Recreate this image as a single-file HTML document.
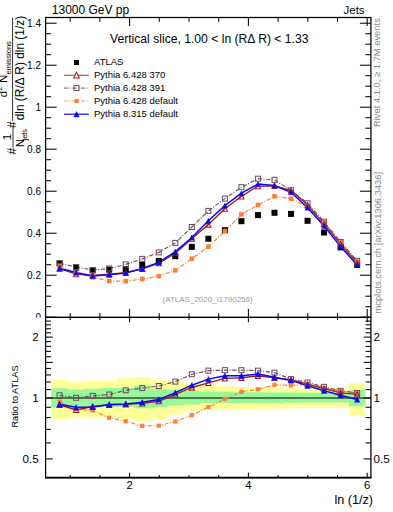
<!DOCTYPE html>
<html><head><meta charset="utf-8"><style>
html,body{margin:0;padding:0;width:393px;height:512px;overflow:hidden;background:#fff;}
</style></head><body>
<svg width="393" height="512" viewBox="0 0 393 512" style="position:absolute;left:0;top:0">
<rect width="393" height="512" fill="#fff"/>
<path d="M51.34,379.70 L67.87,379.70 L67.86,381.50 L84.39,381.50 L84.39,380.60 L100.92,380.60 L100.92,380.40 L117.45,380.40 L117.45,378.30 L133.99,378.30 L133.99,377.30 L150.51,377.30 L150.51,380.20 L167.05,380.20 L167.05,381.50 L183.57,381.50 L183.57,384.00 L200.11,384.00 L200.11,385.80 L216.63,385.80 L216.63,385.80 L233.17,385.80 L233.17,387.00 L249.69,387.00 L249.70,387.00 L266.23,387.00 L266.23,387.20 L282.75,387.20 L282.76,388.20 L299.29,388.20 L299.29,388.40 L315.81,388.40 L315.82,388.40 L332.35,388.40 L332.35,388.40 L348.88,388.40 L348.88,383.00 L365.41,383.00 L365.41,415.60 L348.88,415.60 L348.88,408.00 L332.35,408.00 L332.35,408.00 L315.82,408.00 L315.81,408.00 L299.29,408.00 L299.29,408.40 L282.76,408.40 L282.75,408.80 L266.23,408.80 L266.23,409.00 L249.70,409.00 L249.69,409.20 L233.17,409.20 L233.17,409.40 L216.63,409.40 L216.63,410.20 L200.11,410.20 L200.11,410.70 L183.57,410.70 L183.57,414.50 L167.05,414.50 L167.05,419.60 L150.51,419.60 L150.51,421.00 L133.99,421.00 L133.99,419.00 L117.45,419.00 L117.45,417.30 L100.92,417.30 L100.92,417.50 L84.39,417.50 L84.39,418.20 L67.86,418.20 L67.87,419.50 L51.34,419.50 Z" fill="#ffff99"/>
<path d="M51.34,388.30 L67.87,388.30 L67.86,389.50 L84.39,389.50 L84.39,388.70 L100.92,388.70 L100.92,388.00 L117.45,388.00 L117.45,388.00 L133.99,388.00 L133.99,385.80 L150.51,385.80 L150.51,389.10 L167.05,389.10 L167.05,389.80 L183.57,389.80 L183.57,390.90 L200.11,390.90 L200.11,391.60 L216.63,391.60 L216.63,391.60 L233.17,391.60 L233.17,392.20 L249.69,392.20 L249.70,392.20 L266.23,392.20 L266.23,392.40 L282.75,392.40 L282.76,392.60 L299.29,392.60 L299.29,392.80 L315.81,392.80 L315.82,392.80 L332.35,392.80 L332.35,392.80 L348.88,392.80 L348.88,390.10 L365.41,390.10 L365.41,406.20 L348.88,406.20 L348.88,402.60 L332.35,402.60 L332.35,402.60 L315.82,402.60 L315.81,402.60 L299.29,402.60 L299.29,402.80 L282.76,402.80 L282.75,403.40 L266.23,403.40 L266.23,403.60 L249.70,403.60 L249.69,403.40 L233.17,403.40 L233.17,403.00 L216.63,403.00 L216.63,403.00 L200.11,403.00 L200.11,404.40 L183.57,404.40 L183.57,405.60 L167.05,405.60 L167.05,406.90 L150.51,406.90 L150.51,408.20 L133.99,408.20 L133.99,407.00 L117.45,407.00 L117.45,407.00 L100.92,407.00 L100.92,407.40 L84.39,407.40 L84.39,408.00 L67.86,408.00 L67.87,407.40 L51.34,407.40 Z" fill="#99f899"/>
<line x1="45.6" y1="398.00" x2="370.9" y2="398.00" stroke="#000" stroke-width="1.1"/>
<g stroke="#000" stroke-width="1.25" fill="none">
<rect x="45.6" y="17.5" width="325.29999999999995" height="299.9"/>
<rect x="45.6" y="317.4" width="325.29999999999995" height="160.20000000000005"/>
<line x1="45.0" y1="477.6" x2="371.5" y2="477.6" stroke-width="1.6"/>
</g>
<g stroke="#000" stroke-width="1.05" fill="none">
<line x1="45.6" y1="317.20" x2="56.6" y2="317.20"/>
<line x1="370.9" y1="317.20" x2="359.9" y2="317.20"/>
<line x1="45.6" y1="306.70" x2="51.1" y2="306.70"/>
<line x1="370.9" y1="306.70" x2="365.4" y2="306.70"/>
<line x1="45.6" y1="296.20" x2="51.1" y2="296.20"/>
<line x1="370.9" y1="296.20" x2="365.4" y2="296.20"/>
<line x1="45.6" y1="285.70" x2="51.1" y2="285.70"/>
<line x1="370.9" y1="285.70" x2="365.4" y2="285.70"/>
<line x1="45.6" y1="275.20" x2="56.6" y2="275.20"/>
<line x1="370.9" y1="275.20" x2="359.9" y2="275.20"/>
<line x1="45.6" y1="264.70" x2="51.1" y2="264.70"/>
<line x1="370.9" y1="264.70" x2="365.4" y2="264.70"/>
<line x1="45.6" y1="254.20" x2="51.1" y2="254.20"/>
<line x1="370.9" y1="254.20" x2="365.4" y2="254.20"/>
<line x1="45.6" y1="243.70" x2="51.1" y2="243.70"/>
<line x1="370.9" y1="243.70" x2="365.4" y2="243.70"/>
<line x1="45.6" y1="233.20" x2="56.6" y2="233.20"/>
<line x1="370.9" y1="233.20" x2="359.9" y2="233.20"/>
<line x1="45.6" y1="222.70" x2="51.1" y2="222.70"/>
<line x1="370.9" y1="222.70" x2="365.4" y2="222.70"/>
<line x1="45.6" y1="212.20" x2="51.1" y2="212.20"/>
<line x1="370.9" y1="212.20" x2="365.4" y2="212.20"/>
<line x1="45.6" y1="201.70" x2="51.1" y2="201.70"/>
<line x1="370.9" y1="201.70" x2="365.4" y2="201.70"/>
<line x1="45.6" y1="191.20" x2="56.6" y2="191.20"/>
<line x1="370.9" y1="191.20" x2="359.9" y2="191.20"/>
<line x1="45.6" y1="180.70" x2="51.1" y2="180.70"/>
<line x1="370.9" y1="180.70" x2="365.4" y2="180.70"/>
<line x1="45.6" y1="170.20" x2="51.1" y2="170.20"/>
<line x1="370.9" y1="170.20" x2="365.4" y2="170.20"/>
<line x1="45.6" y1="159.70" x2="51.1" y2="159.70"/>
<line x1="370.9" y1="159.70" x2="365.4" y2="159.70"/>
<line x1="45.6" y1="149.20" x2="56.6" y2="149.20"/>
<line x1="370.9" y1="149.20" x2="359.9" y2="149.20"/>
<line x1="45.6" y1="138.70" x2="51.1" y2="138.70"/>
<line x1="370.9" y1="138.70" x2="365.4" y2="138.70"/>
<line x1="45.6" y1="128.20" x2="51.1" y2="128.20"/>
<line x1="370.9" y1="128.20" x2="365.4" y2="128.20"/>
<line x1="45.6" y1="117.70" x2="51.1" y2="117.70"/>
<line x1="370.9" y1="117.70" x2="365.4" y2="117.70"/>
<line x1="45.6" y1="107.20" x2="56.6" y2="107.20"/>
<line x1="370.9" y1="107.20" x2="359.9" y2="107.20"/>
<line x1="45.6" y1="96.70" x2="51.1" y2="96.70"/>
<line x1="370.9" y1="96.70" x2="365.4" y2="96.70"/>
<line x1="45.6" y1="86.20" x2="51.1" y2="86.20"/>
<line x1="370.9" y1="86.20" x2="365.4" y2="86.20"/>
<line x1="45.6" y1="75.70" x2="51.1" y2="75.70"/>
<line x1="370.9" y1="75.70" x2="365.4" y2="75.70"/>
<line x1="45.6" y1="65.20" x2="56.6" y2="65.20"/>
<line x1="370.9" y1="65.20" x2="359.9" y2="65.20"/>
<line x1="45.6" y1="54.70" x2="51.1" y2="54.70"/>
<line x1="370.9" y1="54.70" x2="365.4" y2="54.70"/>
<line x1="45.6" y1="44.20" x2="51.1" y2="44.20"/>
<line x1="370.9" y1="44.20" x2="365.4" y2="44.20"/>
<line x1="45.6" y1="33.70" x2="51.1" y2="33.70"/>
<line x1="370.9" y1="33.70" x2="365.4" y2="33.70"/>
<line x1="45.6" y1="23.20" x2="56.6" y2="23.20"/>
<line x1="370.9" y1="23.20" x2="359.9" y2="23.20"/>
<line x1="70.20" y1="317.4" x2="70.20" y2="313.2"/>
<line x1="70.20" y1="17.5" x2="70.20" y2="21.7"/>
<line x1="70.20" y1="317.4" x2="70.20" y2="320.0"/>
<line x1="70.20" y1="477.6" x2="70.20" y2="475.0"/>
<line x1="99.90" y1="317.4" x2="99.90" y2="313.2"/>
<line x1="99.90" y1="17.5" x2="99.90" y2="21.7"/>
<line x1="99.90" y1="317.4" x2="99.90" y2="320.0"/>
<line x1="99.90" y1="477.6" x2="99.90" y2="475.0"/>
<line x1="129.60" y1="317.4" x2="129.60" y2="308.9"/>
<line x1="129.60" y1="17.5" x2="129.60" y2="26.0"/>
<line x1="129.60" y1="317.4" x2="129.60" y2="322.2"/>
<line x1="129.60" y1="477.6" x2="129.60" y2="472.8"/>
<line x1="159.30" y1="317.4" x2="159.30" y2="313.2"/>
<line x1="159.30" y1="17.5" x2="159.30" y2="21.7"/>
<line x1="159.30" y1="317.4" x2="159.30" y2="320.0"/>
<line x1="159.30" y1="477.6" x2="159.30" y2="475.0"/>
<line x1="189.00" y1="317.4" x2="189.00" y2="313.2"/>
<line x1="189.00" y1="17.5" x2="189.00" y2="21.7"/>
<line x1="189.00" y1="317.4" x2="189.00" y2="320.0"/>
<line x1="189.00" y1="477.6" x2="189.00" y2="475.0"/>
<line x1="218.70" y1="317.4" x2="218.70" y2="313.2"/>
<line x1="218.70" y1="17.5" x2="218.70" y2="21.7"/>
<line x1="218.70" y1="317.4" x2="218.70" y2="320.0"/>
<line x1="218.70" y1="477.6" x2="218.70" y2="475.0"/>
<line x1="248.40" y1="317.4" x2="248.40" y2="308.9"/>
<line x1="248.40" y1="17.5" x2="248.40" y2="26.0"/>
<line x1="248.40" y1="317.4" x2="248.40" y2="322.2"/>
<line x1="248.40" y1="477.6" x2="248.40" y2="472.8"/>
<line x1="278.10" y1="317.4" x2="278.10" y2="313.2"/>
<line x1="278.10" y1="17.5" x2="278.10" y2="21.7"/>
<line x1="278.10" y1="317.4" x2="278.10" y2="320.0"/>
<line x1="278.10" y1="477.6" x2="278.10" y2="475.0"/>
<line x1="307.80" y1="317.4" x2="307.80" y2="313.2"/>
<line x1="307.80" y1="17.5" x2="307.80" y2="21.7"/>
<line x1="307.80" y1="317.4" x2="307.80" y2="320.0"/>
<line x1="307.80" y1="477.6" x2="307.80" y2="475.0"/>
<line x1="337.50" y1="317.4" x2="337.50" y2="313.2"/>
<line x1="337.50" y1="17.5" x2="337.50" y2="21.7"/>
<line x1="337.50" y1="317.4" x2="337.50" y2="320.0"/>
<line x1="337.50" y1="477.6" x2="337.50" y2="475.0"/>
<line x1="367.20" y1="317.4" x2="367.20" y2="308.9"/>
<line x1="367.20" y1="17.5" x2="367.20" y2="26.0"/>
<line x1="367.20" y1="317.4" x2="367.20" y2="322.2"/>
<line x1="367.20" y1="477.6" x2="367.20" y2="472.8"/>
<line x1="45.6" y1="458.90" x2="52.800000000000004" y2="458.90"/>
<line x1="370.9" y1="458.90" x2="363.7" y2="458.90"/>
<line x1="45.6" y1="442.88" x2="50.9" y2="442.88"/>
<line x1="370.9" y1="442.88" x2="365.59999999999997" y2="442.88"/>
<line x1="45.6" y1="429.34" x2="50.9" y2="429.34"/>
<line x1="370.9" y1="429.34" x2="365.59999999999997" y2="429.34"/>
<line x1="45.6" y1="417.61" x2="50.9" y2="417.61"/>
<line x1="370.9" y1="417.61" x2="365.59999999999997" y2="417.61"/>
<line x1="45.6" y1="407.26" x2="50.9" y2="407.26"/>
<line x1="370.9" y1="407.26" x2="365.59999999999997" y2="407.26"/>
<line x1="45.6" y1="398.00" x2="52.800000000000004" y2="398.00"/>
<line x1="370.9" y1="398.00" x2="363.7" y2="398.00"/>
<line x1="45.6" y1="389.63" x2="50.9" y2="389.63"/>
<line x1="370.9" y1="389.63" x2="365.59999999999997" y2="389.63"/>
<line x1="45.6" y1="381.98" x2="50.9" y2="381.98"/>
<line x1="370.9" y1="381.98" x2="365.59999999999997" y2="381.98"/>
<line x1="45.6" y1="374.95" x2="50.9" y2="374.95"/>
<line x1="370.9" y1="374.95" x2="365.59999999999997" y2="374.95"/>
<line x1="45.6" y1="368.44" x2="50.9" y2="368.44"/>
<line x1="370.9" y1="368.44" x2="365.59999999999997" y2="368.44"/>
<line x1="45.6" y1="362.38" x2="52.800000000000004" y2="362.38"/>
<line x1="370.9" y1="362.38" x2="363.7" y2="362.38"/>
<line x1="45.6" y1="356.71" x2="50.9" y2="356.71"/>
<line x1="370.9" y1="356.71" x2="365.59999999999997" y2="356.71"/>
<line x1="45.6" y1="351.38" x2="50.9" y2="351.38"/>
<line x1="370.9" y1="351.38" x2="365.59999999999997" y2="351.38"/>
<line x1="45.6" y1="346.36" x2="50.9" y2="346.36"/>
<line x1="370.9" y1="346.36" x2="365.59999999999997" y2="346.36"/>
<line x1="45.6" y1="341.61" x2="50.9" y2="341.61"/>
<line x1="370.9" y1="341.61" x2="365.59999999999997" y2="341.61"/>
<line x1="45.6" y1="337.10" x2="52.800000000000004" y2="337.10"/>
<line x1="370.9" y1="337.10" x2="363.7" y2="337.10"/>
<line x1="45.6" y1="332.81" x2="50.9" y2="332.81"/>
<line x1="370.9" y1="332.81" x2="365.59999999999997" y2="332.81"/>
<line x1="45.6" y1="328.73" x2="50.9" y2="328.73"/>
<line x1="370.9" y1="328.73" x2="365.59999999999997" y2="328.73"/>
<line x1="45.6" y1="324.82" x2="50.9" y2="324.82"/>
<line x1="370.9" y1="324.82" x2="365.59999999999997" y2="324.82"/>
<line x1="45.6" y1="321.08" x2="50.9" y2="321.08"/>
<line x1="370.9" y1="321.08" x2="365.59999999999997" y2="321.08"/>
<line x1="45.6" y1="317.49" x2="50.9" y2="317.49"/>
<line x1="370.9" y1="317.49" x2="365.59999999999997" y2="317.49"/>
</g>
<polyline points="59.60,265.73 76.13,273.30 92.66,277.29 109.19,281.00 125.72,281.20 142.25,279.00 158.78,276.15 175.31,270.32 191.84,258.67 208.37,246.67 224.90,231.03 241.43,214.40 257.96,204.99 274.49,196.30 291.02,198.75 307.55,206.81 324.08,222.38 340.61,242.11 357.14,261.92" fill="none" stroke="#ff7f3a" stroke-width="1.2" stroke-dasharray="4.2,1.5,1,1.7"/>
<polyline points="59.60,263.30 76.13,267.00 92.66,270.00 109.19,268.50 125.72,264.40 142.25,258.90 158.78,252.40 175.31,242.90 191.84,227.00 208.37,210.90 224.90,198.60 241.43,187.20 257.96,178.70 274.49,179.80 291.02,190.30 307.55,203.30 324.08,221.70 340.61,242.00 357.14,260.80" fill="none" stroke="#6f4a62" stroke-width="1.15" stroke-dasharray="4.2,1.5,1,1.7"/>
<polyline points="59.60,268.64 76.13,274.20 92.66,275.35 109.19,274.15 125.72,272.69 142.25,268.87 158.78,263.21 175.31,253.22 191.84,238.74 208.37,224.50 224.90,208.68 241.43,196.32 257.96,186.05 274.49,185.83 291.02,190.42 307.55,205.06 324.08,223.87 340.61,244.11 357.14,262.90" fill="none" stroke="#a31a2c" stroke-width="1.35"/>
<polyline points="59.60,268.40 76.13,272.50 92.66,276.00 109.19,274.80 125.72,272.90 142.25,268.50 158.78,262.40 175.31,251.60 191.84,237.50 208.37,220.80 224.90,205.60 241.43,193.20 257.96,184.10 274.49,185.60 291.02,192.30 307.55,207.80 324.08,226.10 340.61,246.60 357.14,265.00" fill="none" stroke="#0a0af0" stroke-width="1.5"/>
<rect x="56.60" y="260.30" width="6.00" height="6.00" fill="#000" stroke="none" stroke-width="0"/>
<rect x="73.13" y="264.60" width="6.00" height="6.00" fill="#000" stroke="none" stroke-width="0"/>
<rect x="89.66" y="267.40" width="6.00" height="6.00" fill="#000" stroke="none" stroke-width="0"/>
<rect x="106.19" y="266.70" width="6.00" height="6.00" fill="#000" stroke="none" stroke-width="0"/>
<rect x="122.72" y="266.00" width="6.00" height="6.00" fill="#000" stroke="none" stroke-width="0"/>
<rect x="139.25" y="262.00" width="6.00" height="6.00" fill="#000" stroke="none" stroke-width="0"/>
<rect x="155.78" y="257.90" width="6.00" height="6.00" fill="#000" stroke="none" stroke-width="0"/>
<rect x="172.31" y="253.20" width="6.00" height="6.00" fill="#000" stroke="none" stroke-width="0"/>
<rect x="188.84" y="243.90" width="6.00" height="6.00" fill="#000" stroke="none" stroke-width="0"/>
<rect x="205.37" y="235.75" width="6.00" height="6.00" fill="#000" stroke="none" stroke-width="0"/>
<rect x="221.90" y="227.20" width="6.00" height="6.00" fill="#000" stroke="none" stroke-width="0"/>
<rect x="238.43" y="218.20" width="6.00" height="6.00" fill="#000" stroke="none" stroke-width="0"/>
<rect x="254.96" y="212.10" width="6.00" height="6.00" fill="#000" stroke="none" stroke-width="0"/>
<rect x="271.49" y="209.80" width="6.00" height="6.00" fill="#000" stroke="none" stroke-width="0"/>
<rect x="288.02" y="210.90" width="6.00" height="6.00" fill="#000" stroke="none" stroke-width="0"/>
<rect x="304.55" y="217.80" width="6.00" height="6.00" fill="#000" stroke="none" stroke-width="0"/>
<rect x="321.08" y="229.50" width="6.00" height="6.00" fill="#000" stroke="none" stroke-width="0"/>
<rect x="337.61" y="244.40" width="6.00" height="6.00" fill="#000" stroke="none" stroke-width="0"/>
<rect x="354.14" y="262.00" width="6.00" height="6.00" fill="#000" stroke="none" stroke-width="0"/>
<rect x="57.30" y="263.43" width="4.60" height="4.60" fill="#ff7f3a" stroke="none" stroke-width="0"/>
<rect x="73.83" y="271.00" width="4.60" height="4.60" fill="#ff7f3a" stroke="none" stroke-width="0"/>
<rect x="90.36" y="274.99" width="4.60" height="4.60" fill="#ff7f3a" stroke="none" stroke-width="0"/>
<rect x="106.89" y="278.70" width="4.60" height="4.60" fill="#ff7f3a" stroke="none" stroke-width="0"/>
<rect x="123.42" y="278.90" width="4.60" height="4.60" fill="#ff7f3a" stroke="none" stroke-width="0"/>
<rect x="139.95" y="276.70" width="4.60" height="4.60" fill="#ff7f3a" stroke="none" stroke-width="0"/>
<rect x="156.48" y="273.85" width="4.60" height="4.60" fill="#ff7f3a" stroke="none" stroke-width="0"/>
<rect x="173.01" y="268.02" width="4.60" height="4.60" fill="#ff7f3a" stroke="none" stroke-width="0"/>
<rect x="189.54" y="256.37" width="4.60" height="4.60" fill="#ff7f3a" stroke="none" stroke-width="0"/>
<rect x="206.07" y="244.37" width="4.60" height="4.60" fill="#ff7f3a" stroke="none" stroke-width="0"/>
<rect x="222.60" y="228.73" width="4.60" height="4.60" fill="#ff7f3a" stroke="none" stroke-width="0"/>
<rect x="239.13" y="212.10" width="4.60" height="4.60" fill="#ff7f3a" stroke="none" stroke-width="0"/>
<rect x="255.66" y="202.69" width="4.60" height="4.60" fill="#ff7f3a" stroke="none" stroke-width="0"/>
<rect x="272.19" y="194.00" width="4.60" height="4.60" fill="#ff7f3a" stroke="none" stroke-width="0"/>
<rect x="288.72" y="196.45" width="4.60" height="4.60" fill="#ff7f3a" stroke="none" stroke-width="0"/>
<rect x="305.25" y="204.51" width="4.60" height="4.60" fill="#ff7f3a" stroke="none" stroke-width="0"/>
<rect x="321.78" y="220.08" width="4.60" height="4.60" fill="#ff7f3a" stroke="none" stroke-width="0"/>
<rect x="338.31" y="239.81" width="4.60" height="4.60" fill="#ff7f3a" stroke="none" stroke-width="0"/>
<rect x="354.84" y="259.62" width="4.60" height="4.60" fill="#ff7f3a" stroke="none" stroke-width="0"/>
<rect x="57.10" y="260.80" width="5.00" height="5.00" fill="none" stroke="#6f4a62" stroke-width="1.0"/>
<rect x="73.63" y="264.50" width="5.00" height="5.00" fill="none" stroke="#6f4a62" stroke-width="1.0"/>
<rect x="90.16" y="267.50" width="5.00" height="5.00" fill="none" stroke="#6f4a62" stroke-width="1.0"/>
<rect x="106.69" y="266.00" width="5.00" height="5.00" fill="none" stroke="#6f4a62" stroke-width="1.0"/>
<rect x="123.22" y="261.90" width="5.00" height="5.00" fill="none" stroke="#6f4a62" stroke-width="1.0"/>
<rect x="139.75" y="256.40" width="5.00" height="5.00" fill="none" stroke="#6f4a62" stroke-width="1.0"/>
<rect x="156.28" y="249.90" width="5.00" height="5.00" fill="none" stroke="#6f4a62" stroke-width="1.0"/>
<rect x="172.81" y="240.40" width="5.00" height="5.00" fill="none" stroke="#6f4a62" stroke-width="1.0"/>
<rect x="189.34" y="224.50" width="5.00" height="5.00" fill="none" stroke="#6f4a62" stroke-width="1.0"/>
<rect x="205.87" y="208.40" width="5.00" height="5.00" fill="none" stroke="#6f4a62" stroke-width="1.0"/>
<rect x="222.40" y="196.10" width="5.00" height="5.00" fill="none" stroke="#6f4a62" stroke-width="1.0"/>
<rect x="238.93" y="184.70" width="5.00" height="5.00" fill="none" stroke="#6f4a62" stroke-width="1.0"/>
<rect x="255.46" y="176.20" width="5.00" height="5.00" fill="none" stroke="#6f4a62" stroke-width="1.0"/>
<rect x="271.99" y="177.30" width="5.00" height="5.00" fill="none" stroke="#6f4a62" stroke-width="1.0"/>
<rect x="288.52" y="187.80" width="5.00" height="5.00" fill="none" stroke="#6f4a62" stroke-width="1.0"/>
<rect x="305.05" y="200.80" width="5.00" height="5.00" fill="none" stroke="#6f4a62" stroke-width="1.0"/>
<rect x="321.58" y="219.20" width="5.00" height="5.00" fill="none" stroke="#6f4a62" stroke-width="1.0"/>
<rect x="338.11" y="239.50" width="5.00" height="5.00" fill="none" stroke="#6f4a62" stroke-width="1.0"/>
<rect x="354.64" y="258.30" width="5.00" height="5.00" fill="none" stroke="#6f4a62" stroke-width="1.0"/>
<path d="M57.00,271.24 L62.20,271.24 L59.60,266.04 Z" fill="none" stroke="#a31a2c" stroke-width="1.05"/>
<path d="M73.53,276.80 L78.73,276.80 L76.13,271.60 Z" fill="none" stroke="#a31a2c" stroke-width="1.05"/>
<path d="M90.06,277.95 L95.26,277.95 L92.66,272.75 Z" fill="none" stroke="#a31a2c" stroke-width="1.05"/>
<path d="M106.59,276.75 L111.79,276.75 L109.19,271.55 Z" fill="none" stroke="#a31a2c" stroke-width="1.05"/>
<path d="M123.12,275.29 L128.32,275.29 L125.72,270.09 Z" fill="none" stroke="#a31a2c" stroke-width="1.05"/>
<path d="M139.65,271.47 L144.85,271.47 L142.25,266.27 Z" fill="none" stroke="#a31a2c" stroke-width="1.05"/>
<path d="M156.18,265.81 L161.38,265.81 L158.78,260.61 Z" fill="none" stroke="#a31a2c" stroke-width="1.05"/>
<path d="M172.71,255.82 L177.91,255.82 L175.31,250.62 Z" fill="none" stroke="#a31a2c" stroke-width="1.05"/>
<path d="M189.24,241.34 L194.44,241.34 L191.84,236.14 Z" fill="none" stroke="#a31a2c" stroke-width="1.05"/>
<path d="M205.77,227.10 L210.97,227.10 L208.37,221.90 Z" fill="none" stroke="#a31a2c" stroke-width="1.05"/>
<path d="M222.30,211.28 L227.50,211.28 L224.90,206.08 Z" fill="none" stroke="#a31a2c" stroke-width="1.05"/>
<path d="M238.83,198.92 L244.03,198.92 L241.43,193.72 Z" fill="none" stroke="#a31a2c" stroke-width="1.05"/>
<path d="M255.36,188.65 L260.56,188.65 L257.96,183.45 Z" fill="none" stroke="#a31a2c" stroke-width="1.05"/>
<path d="M271.89,188.43 L277.09,188.43 L274.49,183.23 Z" fill="none" stroke="#a31a2c" stroke-width="1.05"/>
<path d="M288.42,193.02 L293.62,193.02 L291.02,187.82 Z" fill="none" stroke="#a31a2c" stroke-width="1.05"/>
<path d="M304.95,207.66 L310.15,207.66 L307.55,202.46 Z" fill="none" stroke="#a31a2c" stroke-width="1.05"/>
<path d="M321.48,226.47 L326.68,226.47 L324.08,221.27 Z" fill="none" stroke="#a31a2c" stroke-width="1.05"/>
<path d="M338.01,246.71 L343.21,246.71 L340.61,241.51 Z" fill="none" stroke="#a31a2c" stroke-width="1.05"/>
<path d="M354.54,265.50 L359.74,265.50 L357.14,260.30 Z" fill="none" stroke="#a31a2c" stroke-width="1.05"/>
<path d="M57.10,270.90 L62.10,270.90 L59.60,265.90 Z" fill="#0a0af0" stroke="#0a0af0" stroke-width="0.5"/>
<path d="M73.63,275.00 L78.63,275.00 L76.13,270.00 Z" fill="#0a0af0" stroke="#0a0af0" stroke-width="0.5"/>
<path d="M90.16,278.50 L95.16,278.50 L92.66,273.50 Z" fill="#0a0af0" stroke="#0a0af0" stroke-width="0.5"/>
<path d="M106.69,277.30 L111.69,277.30 L109.19,272.30 Z" fill="#0a0af0" stroke="#0a0af0" stroke-width="0.5"/>
<path d="M123.22,275.40 L128.22,275.40 L125.72,270.40 Z" fill="#0a0af0" stroke="#0a0af0" stroke-width="0.5"/>
<path d="M139.75,271.00 L144.75,271.00 L142.25,266.00 Z" fill="#0a0af0" stroke="#0a0af0" stroke-width="0.5"/>
<path d="M156.28,264.90 L161.28,264.90 L158.78,259.90 Z" fill="#0a0af0" stroke="#0a0af0" stroke-width="0.5"/>
<path d="M172.81,254.10 L177.81,254.10 L175.31,249.10 Z" fill="#0a0af0" stroke="#0a0af0" stroke-width="0.5"/>
<path d="M189.34,240.00 L194.34,240.00 L191.84,235.00 Z" fill="#0a0af0" stroke="#0a0af0" stroke-width="0.5"/>
<path d="M205.87,223.30 L210.87,223.30 L208.37,218.30 Z" fill="#0a0af0" stroke="#0a0af0" stroke-width="0.5"/>
<path d="M222.40,208.10 L227.40,208.10 L224.90,203.10 Z" fill="#0a0af0" stroke="#0a0af0" stroke-width="0.5"/>
<path d="M238.93,195.70 L243.93,195.70 L241.43,190.70 Z" fill="#0a0af0" stroke="#0a0af0" stroke-width="0.5"/>
<path d="M255.46,186.60 L260.46,186.60 L257.96,181.60 Z" fill="#0a0af0" stroke="#0a0af0" stroke-width="0.5"/>
<path d="M271.99,188.10 L276.99,188.10 L274.49,183.10 Z" fill="#0a0af0" stroke="#0a0af0" stroke-width="0.5"/>
<path d="M288.52,194.80 L293.52,194.80 L291.02,189.80 Z" fill="#0a0af0" stroke="#0a0af0" stroke-width="0.5"/>
<path d="M305.05,210.30 L310.05,210.30 L307.55,205.30 Z" fill="#0a0af0" stroke="#0a0af0" stroke-width="0.5"/>
<path d="M321.58,228.60 L326.58,228.60 L324.08,223.60 Z" fill="#0a0af0" stroke="#0a0af0" stroke-width="0.5"/>
<path d="M338.11,249.10 L343.11,249.10 L340.61,244.10 Z" fill="#0a0af0" stroke="#0a0af0" stroke-width="0.5"/>
<path d="M354.64,267.50 L359.64,267.50 L357.14,262.50 Z" fill="#0a0af0" stroke="#0a0af0" stroke-width="0.5"/>
<polyline points="59.60,401.59 76.13,409.33 92.66,410.44 109.19,417.83 125.72,421.31 142.25,425.89 158.78,425.65 175.31,421.54 191.84,415.12 208.37,407.06 224.90,398.88 241.43,391.81 257.96,389.31 274.49,384.88 291.02,385.42 307.55,384.21 324.08,387.96 340.61,391.24 357.14,393.46" fill="none" stroke="#ff7f3a" stroke-width="1.2" stroke-dasharray="4.2,1.5,1,1.7"/>
<polyline points="59.60,395.32 76.13,397.82 92.66,395.92 109.19,394.55 125.72,390.27 142.25,388.04 158.78,386.03 175.31,381.62 191.84,374.28 208.37,370.66 224.90,370.15 241.43,370.15 257.96,370.66 274.49,372.68 291.02,379.10 307.55,382.50 324.08,386.87 340.61,390.83 357.14,392.96" fill="none" stroke="#6f4a62" stroke-width="1.15" stroke-dasharray="4.2,1.5,1,1.7"/>
<polyline points="59.60,404.75 76.13,409.93 92.66,406.48 109.19,404.94 125.72,404.38 142.25,403.44 158.78,401.22 175.31,394.39 191.84,387.50 208.37,382.86 224.90,378.32 241.43,377.76 257.96,375.76 274.49,377.76 291.02,379.81 307.55,384.21 324.08,388.51 340.61,392.88 357.14,394.39" fill="none" stroke="#a31a2c" stroke-width="1.35"/>
<polyline points="59.60,404.19 76.13,407.35 92.66,406.96 109.19,404.47 125.72,403.90 142.25,402.32 158.78,399.42 175.31,392.63 191.84,385.19 208.37,379.10 224.90,375.76 241.43,375.76 257.96,374.01 274.49,377.28 291.02,380.39 307.55,385.72 324.08,390.75 340.61,395.23 357.14,399.51" fill="none" stroke="#0a0af0" stroke-width="1.5"/>
<rect x="57.50" y="399.49" width="4.20" height="4.20" fill="#ff7f3a" stroke="none" stroke-width="0"/>
<rect x="74.03" y="407.23" width="4.20" height="4.20" fill="#ff7f3a" stroke="none" stroke-width="0"/>
<rect x="90.56" y="408.34" width="4.20" height="4.20" fill="#ff7f3a" stroke="none" stroke-width="0"/>
<rect x="107.09" y="415.73" width="4.20" height="4.20" fill="#ff7f3a" stroke="none" stroke-width="0"/>
<rect x="123.62" y="419.21" width="4.20" height="4.20" fill="#ff7f3a" stroke="none" stroke-width="0"/>
<rect x="140.15" y="423.79" width="4.20" height="4.20" fill="#ff7f3a" stroke="none" stroke-width="0"/>
<rect x="156.68" y="423.55" width="4.20" height="4.20" fill="#ff7f3a" stroke="none" stroke-width="0"/>
<rect x="173.21" y="419.44" width="4.20" height="4.20" fill="#ff7f3a" stroke="none" stroke-width="0"/>
<rect x="189.74" y="413.02" width="4.20" height="4.20" fill="#ff7f3a" stroke="none" stroke-width="0"/>
<rect x="206.27" y="404.96" width="4.20" height="4.20" fill="#ff7f3a" stroke="none" stroke-width="0"/>
<rect x="222.80" y="396.78" width="4.20" height="4.20" fill="#ff7f3a" stroke="none" stroke-width="0"/>
<rect x="239.33" y="389.71" width="4.20" height="4.20" fill="#ff7f3a" stroke="none" stroke-width="0"/>
<rect x="255.86" y="387.21" width="4.20" height="4.20" fill="#ff7f3a" stroke="none" stroke-width="0"/>
<rect x="272.39" y="382.78" width="4.20" height="4.20" fill="#ff7f3a" stroke="none" stroke-width="0"/>
<rect x="288.92" y="383.32" width="4.20" height="4.20" fill="#ff7f3a" stroke="none" stroke-width="0"/>
<rect x="305.45" y="382.11" width="4.20" height="4.20" fill="#ff7f3a" stroke="none" stroke-width="0"/>
<rect x="321.98" y="385.86" width="4.20" height="4.20" fill="#ff7f3a" stroke="none" stroke-width="0"/>
<rect x="338.51" y="389.14" width="4.20" height="4.20" fill="#ff7f3a" stroke="none" stroke-width="0"/>
<rect x="355.04" y="391.36" width="4.20" height="4.20" fill="#ff7f3a" stroke="none" stroke-width="0"/>
<rect x="57.10" y="392.82" width="5.00" height="5.00" fill="none" stroke="#6f4a62" stroke-width="1.0"/>
<rect x="73.63" y="395.32" width="5.00" height="5.00" fill="none" stroke="#6f4a62" stroke-width="1.0"/>
<rect x="90.16" y="393.42" width="5.00" height="5.00" fill="none" stroke="#6f4a62" stroke-width="1.0"/>
<rect x="106.69" y="392.05" width="5.00" height="5.00" fill="none" stroke="#6f4a62" stroke-width="1.0"/>
<rect x="123.22" y="387.77" width="5.00" height="5.00" fill="none" stroke="#6f4a62" stroke-width="1.0"/>
<rect x="139.75" y="385.54" width="5.00" height="5.00" fill="none" stroke="#6f4a62" stroke-width="1.0"/>
<rect x="156.28" y="383.53" width="5.00" height="5.00" fill="none" stroke="#6f4a62" stroke-width="1.0"/>
<rect x="172.81" y="379.12" width="5.00" height="5.00" fill="none" stroke="#6f4a62" stroke-width="1.0"/>
<rect x="189.34" y="371.78" width="5.00" height="5.00" fill="none" stroke="#6f4a62" stroke-width="1.0"/>
<rect x="205.87" y="368.16" width="5.00" height="5.00" fill="none" stroke="#6f4a62" stroke-width="1.0"/>
<rect x="222.40" y="367.65" width="5.00" height="5.00" fill="none" stroke="#6f4a62" stroke-width="1.0"/>
<rect x="238.93" y="367.65" width="5.00" height="5.00" fill="none" stroke="#6f4a62" stroke-width="1.0"/>
<rect x="255.46" y="368.16" width="5.00" height="5.00" fill="none" stroke="#6f4a62" stroke-width="1.0"/>
<rect x="271.99" y="370.18" width="5.00" height="5.00" fill="none" stroke="#6f4a62" stroke-width="1.0"/>
<rect x="288.52" y="376.60" width="5.00" height="5.00" fill="none" stroke="#6f4a62" stroke-width="1.0"/>
<rect x="305.05" y="380.00" width="5.00" height="5.00" fill="none" stroke="#6f4a62" stroke-width="1.0"/>
<rect x="321.58" y="384.37" width="5.00" height="5.00" fill="none" stroke="#6f4a62" stroke-width="1.0"/>
<rect x="338.11" y="388.33" width="5.00" height="5.00" fill="none" stroke="#6f4a62" stroke-width="1.0"/>
<rect x="354.64" y="390.46" width="5.00" height="5.00" fill="none" stroke="#6f4a62" stroke-width="1.0"/>
<path d="M57.00,407.35 L62.20,407.35 L59.60,402.15 Z" fill="none" stroke="#a31a2c" stroke-width="1.05"/>
<path d="M73.53,412.53 L78.73,412.53 L76.13,407.33 Z" fill="none" stroke="#a31a2c" stroke-width="1.05"/>
<path d="M90.06,409.08 L95.26,409.08 L92.66,403.88 Z" fill="none" stroke="#a31a2c" stroke-width="1.05"/>
<path d="M106.59,407.54 L111.79,407.54 L109.19,402.34 Z" fill="none" stroke="#a31a2c" stroke-width="1.05"/>
<path d="M123.12,406.98 L128.32,406.98 L125.72,401.78 Z" fill="none" stroke="#a31a2c" stroke-width="1.05"/>
<path d="M139.65,406.04 L144.85,406.04 L142.25,400.84 Z" fill="none" stroke="#a31a2c" stroke-width="1.05"/>
<path d="M156.18,403.82 L161.38,403.82 L158.78,398.62 Z" fill="none" stroke="#a31a2c" stroke-width="1.05"/>
<path d="M172.71,396.99 L177.91,396.99 L175.31,391.79 Z" fill="none" stroke="#a31a2c" stroke-width="1.05"/>
<path d="M189.24,390.10 L194.44,390.10 L191.84,384.90 Z" fill="none" stroke="#a31a2c" stroke-width="1.05"/>
<path d="M205.77,385.46 L210.97,385.46 L208.37,380.26 Z" fill="none" stroke="#a31a2c" stroke-width="1.05"/>
<path d="M222.30,380.92 L227.50,380.92 L224.90,375.72 Z" fill="none" stroke="#a31a2c" stroke-width="1.05"/>
<path d="M238.83,380.36 L244.03,380.36 L241.43,375.16 Z" fill="none" stroke="#a31a2c" stroke-width="1.05"/>
<path d="M255.36,378.36 L260.56,378.36 L257.96,373.16 Z" fill="none" stroke="#a31a2c" stroke-width="1.05"/>
<path d="M271.89,380.36 L277.09,380.36 L274.49,375.16 Z" fill="none" stroke="#a31a2c" stroke-width="1.05"/>
<path d="M288.42,382.41 L293.62,382.41 L291.02,377.21 Z" fill="none" stroke="#a31a2c" stroke-width="1.05"/>
<path d="M304.95,386.81 L310.15,386.81 L307.55,381.61 Z" fill="none" stroke="#a31a2c" stroke-width="1.05"/>
<path d="M321.48,391.11 L326.68,391.11 L324.08,385.91 Z" fill="none" stroke="#a31a2c" stroke-width="1.05"/>
<path d="M338.01,395.48 L343.21,395.48 L340.61,390.28 Z" fill="none" stroke="#a31a2c" stroke-width="1.05"/>
<path d="M354.54,396.99 L359.74,396.99 L357.14,391.79 Z" fill="none" stroke="#a31a2c" stroke-width="1.05"/>
<path d="M56.90,406.89 L62.30,406.89 L59.60,401.49 Z" fill="#0a0af0" stroke="#0a0af0" stroke-width="0.5"/>
<path d="M73.43,410.05 L78.83,410.05 L76.13,404.65 Z" fill="#0a0af0" stroke="#0a0af0" stroke-width="0.5"/>
<path d="M89.96,409.66 L95.36,409.66 L92.66,404.26 Z" fill="#0a0af0" stroke="#0a0af0" stroke-width="0.5"/>
<path d="M106.49,407.17 L111.89,407.17 L109.19,401.77 Z" fill="#0a0af0" stroke="#0a0af0" stroke-width="0.5"/>
<path d="M123.02,406.60 L128.42,406.60 L125.72,401.20 Z" fill="#0a0af0" stroke="#0a0af0" stroke-width="0.5"/>
<path d="M139.55,405.02 L144.95,405.02 L142.25,399.62 Z" fill="#0a0af0" stroke="#0a0af0" stroke-width="0.5"/>
<path d="M156.08,402.12 L161.48,402.12 L158.78,396.72 Z" fill="#0a0af0" stroke="#0a0af0" stroke-width="0.5"/>
<path d="M172.61,395.33 L178.01,395.33 L175.31,389.93 Z" fill="#0a0af0" stroke="#0a0af0" stroke-width="0.5"/>
<path d="M189.14,387.89 L194.54,387.89 L191.84,382.49 Z" fill="#0a0af0" stroke="#0a0af0" stroke-width="0.5"/>
<path d="M205.67,381.80 L211.07,381.80 L208.37,376.40 Z" fill="#0a0af0" stroke="#0a0af0" stroke-width="0.5"/>
<path d="M222.20,378.46 L227.60,378.46 L224.90,373.06 Z" fill="#0a0af0" stroke="#0a0af0" stroke-width="0.5"/>
<path d="M238.73,378.46 L244.13,378.46 L241.43,373.06 Z" fill="#0a0af0" stroke="#0a0af0" stroke-width="0.5"/>
<path d="M255.26,376.71 L260.66,376.71 L257.96,371.31 Z" fill="#0a0af0" stroke="#0a0af0" stroke-width="0.5"/>
<path d="M271.79,379.98 L277.19,379.98 L274.49,374.58 Z" fill="#0a0af0" stroke="#0a0af0" stroke-width="0.5"/>
<path d="M288.32,383.09 L293.72,383.09 L291.02,377.69 Z" fill="#0a0af0" stroke="#0a0af0" stroke-width="0.5"/>
<path d="M304.85,388.42 L310.25,388.42 L307.55,383.02 Z" fill="#0a0af0" stroke="#0a0af0" stroke-width="0.5"/>
<path d="M321.38,393.45 L326.78,393.45 L324.08,388.05 Z" fill="#0a0af0" stroke="#0a0af0" stroke-width="0.5"/>
<path d="M337.91,397.93 L343.31,397.93 L340.61,392.53 Z" fill="#0a0af0" stroke="#0a0af0" stroke-width="0.5"/>
<path d="M354.44,402.21 L359.84,402.21 L357.14,396.81 Z" fill="#0a0af0" stroke="#0a0af0" stroke-width="0.5"/>
<g font-family='"Liberation Sans", sans-serif'>
<text x="51.8" y="13.7" font-size="12.0" text-anchor="start" fill="#000" >13000 GeV pp</text>
<text x="364.6" y="13.7" font-size="11.5" text-anchor="end" fill="#000" >Jets</text>
<text x="110.0" y="42.7" font-size="12.15" text-anchor="start" fill="#000" >Vertical slice, 1.00 &lt; ln (RΔ R) &lt; 1.33</text>
<text x="207.6" y="302.4" font-size="8.0" text-anchor="middle" fill="#9a9a9a" >(ATLAS_2020_I1790256)</text>
<defs><clipPath id="mclip"><rect x="0" y="0" width="393" height="317.4"/></clipPath></defs>
<g clip-path="url(#mclip)">
<text x="41.0" y="27.099999999999987" font-size="10.0" text-anchor="end" fill="#000" >1.4</text>
<text x="41.0" y="69.1" font-size="10.0" text-anchor="end" fill="#000" >1.2</text>
<text x="41.0" y="111.1" font-size="10.0" text-anchor="end" fill="#000" >1</text>
<text x="41.0" y="153.1" font-size="10.0" text-anchor="end" fill="#000" >0.8</text>
<text x="41.0" y="195.1" font-size="10.0" text-anchor="end" fill="#000" >0.6</text>
<text x="41.0" y="237.1" font-size="10.0" text-anchor="end" fill="#000" >0.4</text>
<text x="41.0" y="279.09999999999997" font-size="10.0" text-anchor="end" fill="#000" >0.2</text>
<text x="41.0" y="321.09999999999997" font-size="10.0" text-anchor="end" fill="#000" >0</text>
</g>
<text x="38.6" y="340.70000000000005" font-size="11.6" text-anchor="end" fill="#000" >2</text>
<text x="373.6" y="340.70000000000005" font-size="11.6" text-anchor="start" fill="#000" >2</text>
<text x="38.6" y="401.6" font-size="11.6" text-anchor="end" fill="#000" >1</text>
<text x="373.6" y="401.6" font-size="11.6" text-anchor="start" fill="#000" >1</text>
<text x="38.6" y="462.5" font-size="11.6" text-anchor="end" fill="#000" >0.5</text>
<text x="373.6" y="462.5" font-size="11.6" text-anchor="start" fill="#000" >0.5</text>
<text x="129.6" y="488.9" font-size="11.3" text-anchor="middle" fill="#000" >2</text>
<text x="248.4" y="488.9" font-size="11.3" text-anchor="middle" fill="#000" >4</text>
<text x="367.2" y="488.9" font-size="11.3" text-anchor="middle" fill="#000" >6</text>
<text x="373.0" y="503.6" font-size="12.6" text-anchor="end" fill="#000" >ln (1/z)</text>
<text transform="translate(18.3,427.6) rotate(-90)" font-size="9.2" text-anchor="start" fill="#000">Ratio to ATLAS</text>
<text transform="translate(380.3,127.0) rotate(-90)" font-size="9.4" text-anchor="start" fill="#8a8a8a">Rivet 4.1.0, ≥ 1.7M events</text>
<text transform="translate(380.9,313.6) rotate(-90)" font-size="9.4" text-anchor="start" fill="#8a8a8a">mcplots.cern.ch [arXiv:1306.3436]</text>
<line x1="12.6" y1="17.5" x2="12.6" y2="121" stroke="#333" stroke-width="1"/>
<text transform="translate(23.7,120.3) rotate(-90)" font-size="11.9" text-anchor="start" fill="#000">dln (R/Δ R) dln (1/z)</text>
<text transform="translate(7.4,97.3) rotate(-90)" font-size="11.5" text-anchor="start" fill="#000">d</text>
<text transform="translate(2.4,90.6) rotate(-90)" font-size="7.5" text-anchor="start" fill="#000">2</text>
<text transform="translate(7.4,83.0) rotate(-90)" font-size="11.5" text-anchor="start" fill="#000">N</text>
<text transform="translate(10.9,74.5) rotate(-90)" font-size="7.5" text-anchor="start" fill="#000">emissions</text>
<text transform="translate(16.3,127.9) rotate(-90)" font-size="12.0" text-anchor="start" fill="#000">#</text>
<line x1="13.0" y1="127.3" x2="13.0" y2="147.5" stroke="#333" stroke-width="1"/>
<text transform="translate(11.4,137.0) rotate(-90)" font-size="11.5" text-anchor="middle" fill="#000">1</text>
<text transform="translate(23.7,147.2) rotate(-90)" font-size="11.5" text-anchor="start" fill="#000">N</text>
<text transform="translate(26.5,140.5) rotate(-90)" font-size="7.4" text-anchor="start" fill="#000">jets</text>
<text transform="translate(16.3,154.6) rotate(-90)" font-size="12.0" text-anchor="start" fill="#000">#</text>
</g>
<rect x="74.00" y="60.00" width="5.00" height="5.00" fill="#000" stroke="none" stroke-width="0"/>
<line x1="64.1" y1="75.3" x2="88.9" y2="75.3" stroke="#a31a2c" stroke-width="1.2" opacity="0.75"/>
<path d="M73.65,77.95 L79.35,77.95 L76.50,72.25 Z" fill="#fff" stroke="#a31a2c" stroke-width="1.05"/>
<line x1="64.1" y1="88.1" x2="88.9" y2="88.1" stroke="#6f4a62" stroke-width="1.2" stroke-dasharray="4.2,1.5,1,1.7" opacity="0.75"/>
<rect x="74.00" y="85.60" width="5.00" height="5.00" fill="none" stroke="#6f4a62" stroke-width="1.0"/>
<line x1="64.1" y1="101.0" x2="88.9" y2="101.0" stroke="#ff7f3a" stroke-width="1.2" stroke-dasharray="4.2,1.5,1,1.7" opacity="0.75"/>
<rect x="74.40" y="98.90" width="4.20" height="4.20" fill="#ff7f3a" stroke="none" stroke-width="0"/>
<line x1="64.1" y1="114.2" x2="88.9" y2="114.2" stroke="#0a0af0" stroke-width="1.2"/>
<path d="M73.80,116.90 L79.20,116.90 L76.50,111.50 Z" fill="#0a0af0" stroke="#0a0af0" stroke-width="0.5"/>
<g font-family='"Liberation Sans", sans-serif' font-size="9.5">
<text x="94.0" y="65.3" font-size="9.5" text-anchor="start" fill="#000" >ATLAS</text>
<text x="94.0" y="78.1" font-size="9.5" text-anchor="start" fill="#000" >Pythia 6.428 370</text>
<text x="94.0" y="90.89999999999999" font-size="9.5" text-anchor="start" fill="#000" >Pythia 6.428 391</text>
<text x="94.0" y="103.8" font-size="9.5" text-anchor="start" fill="#000" >Pythia 6.428 default</text>
<text x="94.0" y="117.0" font-size="9.5" text-anchor="start" fill="#000" >Pythia 8.315 default</text>
</g>
</svg>
</body></html>
